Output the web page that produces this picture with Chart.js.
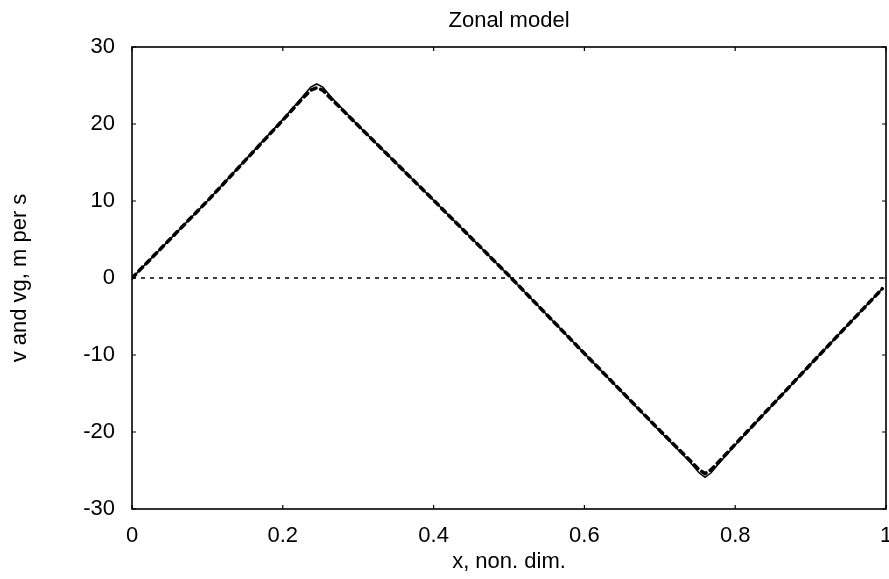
<!DOCTYPE html>
<html>
<head>
<meta charset="utf-8">
<script src="https://cdn.jsdelivr.net/npm/chart.js@4/dist/chart.umd.min.js"></script>
<style>
  html, body { margin: 0; padding: 0; background: #fff; }
  #wrap { width: 889px; height: 579px; }
</style>
</head>
<body>
<div id="wrap"><canvas id="grafico"></canvas></div>
<script>
// valores
const xPuntos = [0, 0.1, 0.2, 0.225, 0.237, 0.245, 0.253, 0.265, 0.3, 0.4, 0.5, 0.6, 0.7, 0.74, 0.752, 0.76, 0.768, 0.78, 0.8, 0.9, 0.995];
const vValores = [0, 10, 20.6, 23.4, 24.8, 25.2, 24.8, 23.4, 19.8, 10.1, 0.3, -9.8, -19.9, -23.9, -25.3, -25.9, -25.3, -23.9, -21.7, -11.2, -1.4];
const vgValores = [0, 10, 20.5, 23.2, 24.4, 24.7, 24.4, 23.2, 19.8, 10.1, 0.3, -9.8, -19.8, -23.7, -24.9, -25.4, -24.9, -23.7, -21.6, -11.2, -1.4];
const ceroX = [0, 1];
const ceroY = [0, 0];
const xTicks = [0, 0.2, 0.4, 0.6, 0.8, 1];
const xEtiquetas = ['0', '0.2', '0.4', '0.6', '0.8', '1'];
const yTicks = [-30, -20, -10, 0, 10, 20, 30];

const fuente = "'Liberation Sans', Arial, sans-serif";

const aPuntos = (xs, ys) => xs.map((x, i) => ({ x: x, y: ys[i] }));

// marco y marcas hacia adentro
const marco = {
  id: 'marco',
  afterDraw(chart) {
    const { ctx, chartArea: a, scales } = chart;
    ctx.save();
    ctx.strokeStyle = '#000';
    ctx.lineWidth = 1.6;
    ctx.strokeRect(a.left, a.top, a.right - a.left, a.bottom - a.top);
    ctx.lineWidth = 1.2;
    ctx.beginPath();
    xTicks.forEach(v => {
      const px = scales.x.getPixelForValue(v);
      ctx.moveTo(px, a.bottom); ctx.lineTo(px, a.bottom - 4);
      ctx.moveTo(px, a.top); ctx.lineTo(px, a.top + 4);
    });
    yTicks.forEach(v => {
      const py = scales.y.getPixelForValue(v);
      ctx.moveTo(a.left, py); ctx.lineTo(a.left + 4, py);
      ctx.moveTo(a.right, py); ctx.lineTo(a.right - 4, py);
    });
    ctx.stroke();
    ctx.restore();
  }
};

const ctx = document.getElementById('grafico').getContext('2d');
const myChart = new Chart(ctx, {
  type: 'line',
  data: {
    datasets: [{
      label: 'cero',
      data: aPuntos(ceroX, ceroY),
      borderColor: '#000',
      borderWidth: 1.3,
      borderDash: [4, 5],
      pointRadius: 0,
    }, {
      label: 'v',
      data: aPuntos(xPuntos, vValores),
      borderColor: '#000',
      borderWidth: 1.5,
      pointRadius: 0,
    }, {
      label: 'vg',
      data: aPuntos(xPuntos, vgValores),
      borderColor: '#000',
      borderWidth: 3.6,
      borderDash: [5, 5],
      borderCapStyle: 'round',
      pointRadius: 0,
    }],
  },
  options: {
    responsive: true,
    maintainAspectRatio: false,
    animation: false,
    layout: { padding: { left: 0, right: 3, top: 0, bottom: 0 } },
    plugins: {
      legend: { display: false },
      tooltip: { enabled: false },
      title: {
        display: true,
        text: 'Zonal model',
        color: '#000',
        fullSize: false,
        font: { family: fuente, size: 22, weight: 'normal' },
        padding: { top: 8, bottom: 12.6 },
      },
    },
    scales: {
      x: {
        type: 'linear',
        min: 0,
        max: 1,
        afterFit(scale) {
          scale.height = 70;
          scale.paddingLeft = 0;
          scale.paddingRight = 0;
        },
        afterBuildTicks(scale) {
          scale.ticks = xTicks.map(v => ({ value: v }));
        },
        grid: { display: false, drawTicks: false },
        border: { display: false },
        ticks: {
          color: '#000',
          padding: 14,
          maxRotation: 0,
          autoSkip: false,
          font: { family: fuente, size: 22 },
          callback: (v) => xEtiquetas[xTicks.indexOf(v)],
        },
        title: {
          display: true,
          text: 'x, non. dim.',
          color: '#000',
          font: { family: fuente, size: 22 },
          padding: { top: 0, bottom: 4 },
        },
      },
      y: {
        min: -30,
        max: 30,
        afterFit(scale) {
          scale.width = 132;
          scale.paddingTop = 0;
          scale.paddingBottom = 0;
        },
        afterBuildTicks(scale) {
          scale.ticks = yTicks.map(v => ({ value: v }));
        },
        grid: { display: false, drawTicks: false },
        border: { display: false },
        ticks: {
          color: '#000',
          padding: 17,
          font: { family: fuente, size: 22 },
        },
        title: {
          display: true,
          text: 'v and vg, m per s',
          color: '#000',
          font: { family: fuente, size: 22 },
          padding: { top: 7, bottom: 0 },
        },
      },
    },
  },
  plugins: [marco],
});
</script>
</body>
</html>
